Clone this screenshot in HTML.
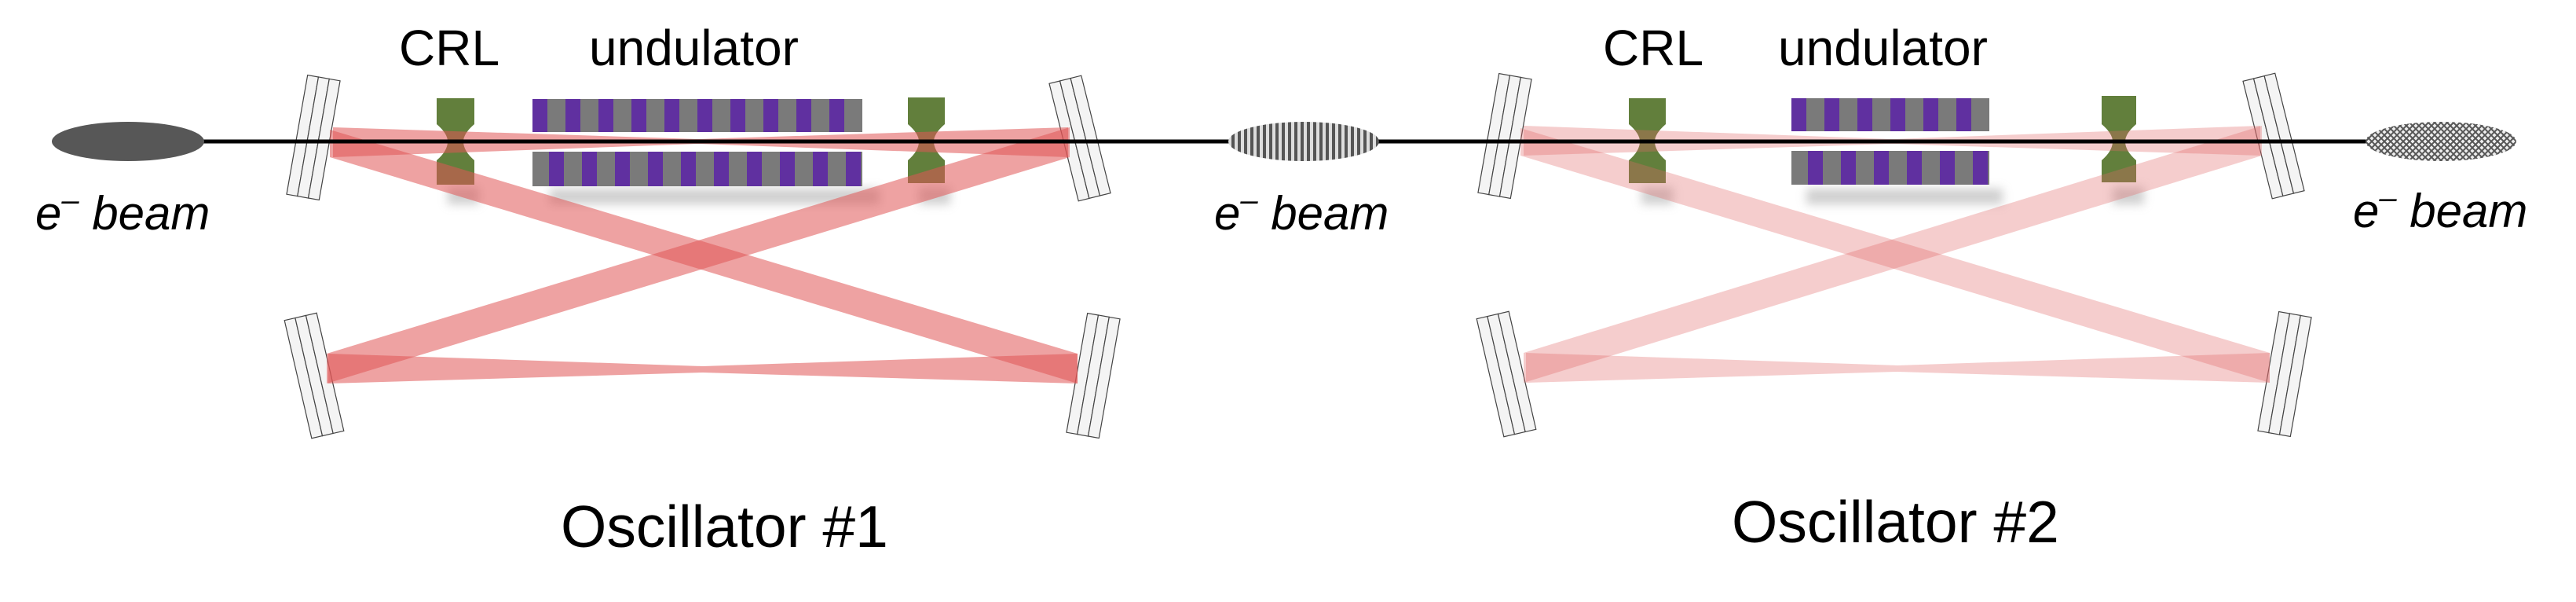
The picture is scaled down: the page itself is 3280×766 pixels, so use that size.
<!DOCTYPE html>
<html><head><meta charset="utf-8"><style>
html,body{margin:0;padding:0;background:#fff;}
svg{display:block;}
text{font-family:"Liberation Sans",sans-serif;fill:#000;}
</style></head><body>
<svg width="3280" height="766" viewBox="0 0 3280 766" xmlns="http://www.w3.org/2000/svg">
<defs>
<pattern id="vs" width="8" height="8" patternUnits="userSpaceOnUse"><rect width="8" height="8" fill="#ddd"/><rect width="4" height="8" fill="#555"/></pattern>
<pattern id="xh" width="8" height="8" patternUnits="userSpaceOnUse"><rect width="8" height="8" fill="#eee"/><path d="M0 0L8 8M8 0L0 8" stroke="#555" stroke-width="2"/></pattern>
<filter id="bl" x="-20%" y="-100%" width="140%" height="300%"><feGaussianBlur stdDeviation="6"/></filter>
<g id="mir"><rect x="-21" y="-77" width="14" height="154" fill="#f4f4f4" stroke="#444" stroke-width="1.2"/><rect x="-7" y="-77" width="14" height="154" fill="#f4f4f4" stroke="#444" stroke-width="1.2"/><rect x="7" y="-77" width="14" height="154" fill="#f4f4f4" stroke="#444" stroke-width="1.2"/></g>
<g id="crl"><path d="M0 0H47V62Q34 80 35 104Q34 128 47 146V110H0V146Q13 128 12 104Q13 80 0 62Z" fill="#627f3c"/><rect x="0" y="0" width="47" height="62" fill="#627f3c"/><rect x="0" y="80" width="47" height="30" fill="#627f3c"/></g>
</defs>

<!-- shadows -->
<g filter="url(#bl)" fill="#bbb" opacity="0.7">
<rect x="700" y="240" width="420" height="20"/><rect x="570" y="238" width="40" height="22"/><rect x="1170" y="238" width="40" height="22"/>
<rect x="2300" y="240" width="250" height="20"/><rect x="2090" y="238" width="40" height="22"/><rect x="2690" y="238" width="40" height="22"/>
</g>

<!-- mirrors osc1 -->
<use href="#mir" transform="translate(399,175) rotate(10)"/>
<use href="#mir" transform="translate(1375,176) rotate(-14)"/>
<use href="#mir" transform="translate(400,478) rotate(-13)"/>
<use href="#mir" transform="translate(1392,478) rotate(10)"/>
<!-- mirrors osc2 -->
<use href="#mir" transform="translate(1916,173) rotate(10)"/>
<use href="#mir" transform="translate(2895,173) rotate(-14)"/>
<use href="#mir" transform="translate(1918,476) rotate(-13)"/>
<use href="#mir" transform="translate(2909,476) rotate(10)"/>

<!-- CRLs (shape with concave waist) -->
<g fill="#627f3c">
<path d="M556 125H604V158Q590 170 590 180Q590 192 604 204V235H556V204Q570 192 570 180Q570 170 556 158Z"/>
<path d="M1156 124H1203V158Q1189 170 1189 180Q1189 192 1203 204V233H1156V204Q1170 192 1170 180Q1170 170 1156 158Z"/>
<path d="M2074 125H2121V158Q2107 170 2107 180Q2107 192 2121 204V233H2074V204Q2088 192 2088 180Q2088 170 2074 158Z"/>
<path d="M2676 122H2720V158Q2706 170 2706 180Q2706 192 2720 204V232H2676V204Q2690 192 2690 180Q2690 170 2676 158Z"/>
</g>

<!-- undulator osc1 -->
<g>
<rect x="678" y="126" width="420" height="42" fill="#7a7a7a"/>
<rect x="678" y="193" width="420" height="44" fill="#7a7a7a"/>
<g fill="#6030a0">
<rect x="678" y="126" width="19" height="42"/><rect x="720" y="126" width="19" height="42"/><rect x="762" y="126" width="19" height="42"/><rect x="804" y="126" width="19" height="42"/><rect x="846" y="126" width="19" height="42"/><rect x="888" y="126" width="19" height="42"/><rect x="930" y="126" width="19" height="42"/><rect x="972" y="126" width="19" height="42"/><rect x="1014" y="126" width="19" height="42"/><rect x="1056" y="126" width="19" height="42"/>
<rect x="699" y="193" width="19" height="44"/><rect x="741" y="193" width="19" height="44"/><rect x="783" y="193" width="19" height="44"/><rect x="825" y="193" width="19" height="44"/><rect x="867" y="193" width="19" height="44"/><rect x="909" y="193" width="19" height="44"/><rect x="951" y="193" width="19" height="44"/><rect x="993" y="193" width="19" height="44"/><rect x="1035" y="193" width="19" height="44"/><rect x="1077" y="193" width="19" height="44"/>
</g>
</g>
<!-- undulator osc2 -->
<g>
<rect x="2281" y="125" width="252" height="42" fill="#7a7a7a"/>
<rect x="2281" y="192" width="252" height="43" fill="#7a7a7a"/>
<g fill="#6030a0">
<rect x="2281" y="125" width="19" height="42"/><rect x="2323" y="125" width="19" height="42"/><rect x="2365" y="125" width="19" height="42"/><rect x="2407" y="125" width="19" height="42"/><rect x="2449" y="125" width="19" height="42"/><rect x="2491" y="125" width="19" height="42"/>
<rect x="2302" y="192" width="19" height="43"/><rect x="2344" y="192" width="19" height="43"/><rect x="2386" y="192" width="19" height="43"/><rect x="2428" y="192" width="19" height="43"/><rect x="2470" y="192" width="19" height="43"/><rect x="2512" y="192" width="19" height="43"/>
</g>
</g>

<!-- beams osc1 -->
<g fill="#e05555" fill-opacity="0.55">
<polygon points="424,162 889,177 1360,162 1360,200 889,183 424,200"/>
<polygon points="420,165 1372,450 1372,488 420,200"/>
<polygon points="1362,162 1362,200 416,488 416,450"/>
<polygon points="418,450 895,466 1372,450 1372,488 895,474 418,488"/>
</g>
<!-- beams osc2 -->
<g fill="#e06666" fill-opacity="0.33">
<polygon points="1940,160 2410,177 2878,160 2878,198 2410,183 1940,198"/>
<polygon points="1936,163 2890,449 2890,487 1936,198"/>
<polygon points="2880,160 2880,198 1940,487 1940,449"/>
<polygon points="1943,449 2416,465 2890,449 2890,487 2416,473 1943,487"/>
</g>

<!-- e beam line -->
<line x1="250" y1="180" x2="3020" y2="180" stroke="#000" stroke-width="5"/>
<ellipse cx="163" cy="180" rx="97" ry="25" fill="#575757"/>
<ellipse cx="1660" cy="180" rx="96" ry="25" fill="url(#vs)"/>
<ellipse cx="3108" cy="180" rx="96" ry="25" fill="url(#xh)"/>

<!-- labels -->
<text x="508" y="83" font-size="64">CRL</text>
<text x="750" y="83" font-size="64">undulator</text>
<text x="2041" y="83" font-size="64">CRL</text>
<text x="2264" y="83" font-size="64">undulator</text>
<g font-style="italic" font-size="60">
<text x="45" y="292">e<tspan dy="-24" font-size="40">–</tspan><tspan dy="24"> beam</tspan></text>
<text x="1546" y="292">e<tspan dy="-24" font-size="40">–</tspan><tspan dy="24"> beam</tspan></text>
<text x="2996" y="289">e<tspan dy="-24" font-size="40">–</tspan><tspan dy="24"> beam</tspan></text>
</g>
<text x="714" y="696" font-size="75">Oscillator #1</text>
<text x="2205" y="690" font-size="75">Oscillator #2</text>
</svg>
</body></html>
